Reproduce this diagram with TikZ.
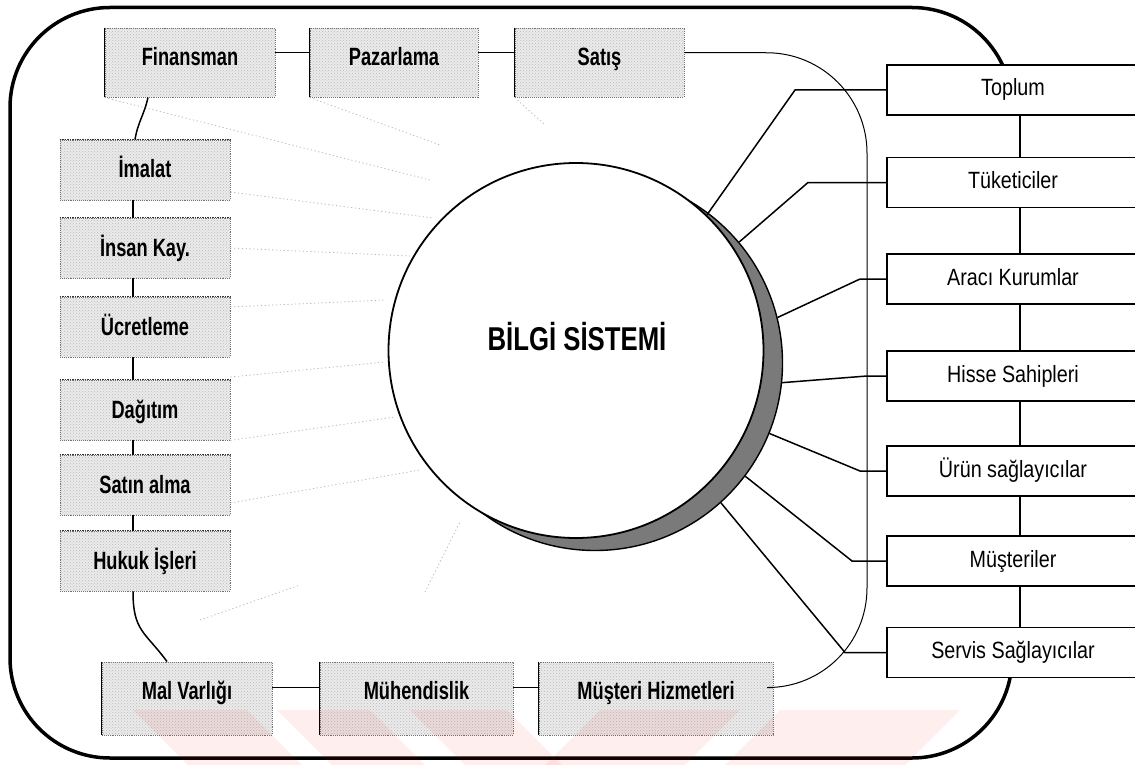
\documentclass[tikz,border=0pt]{standalone}
\usepackage{fontspec}
\usepackage{graphicx}
\setmainfont{Liberation Sans}
\usetikzlibrary{patterns,calc}
% condensed bold label text (boxes) and condensed regular text (right column)
\newcommand{\sqzb}[1]{\scalebox{0.73}[1]{#1}}
\newcommand{\sqzr}[1]{\scalebox{0.84}[1]{#1}}
\begin{document}
\begin{tikzpicture}[x=1pt,y=-1pt]
\tikzset{
  frameline/.style={line width=3.5pt, rounded corners=100pt},
  conn/.style={line width=1.5pt},
  thinline/.style={line width=1pt},
  ray/.style={draw=gray!55, line width=0.8pt, dash pattern=on 1.2pt off 2.6pt},
  gbox/.style={draw=black!55, densely dotted, line width=0.9pt,
    preaction={fill=gray!16}, pattern=crosshatch dots, pattern color=gray!55,
    inner xsep=0pt, inner ysep=0pt, font=\fontsize{25}{25}\selectfont\bfseries},
  toprow/.style={gbox, text height=38pt, text depth=31pt},
  botrow/.style={gbox, text height=37pt, text depth=36pt},
  leftcol/.style={gbox, minimum width=170pt, text height=38pt, text depth=22pt},
  darkside/.style={line width=1.6pt, black},
  darktop/.style={line width=1.5pt, black!80, densely dotted},
  rbox/.style={draw, line width=1.6pt, fill=white, minimum width=252pt,
    minimum height=50pt, inner sep=0pt, text height=17pt, text depth=5pt,
    font=\fontsize{23.5}{23.5}\selectfont},
  wmark/.style={fill=red, opacity=0.065},
}
\useasboundingbox (0,0) rectangle (1135,765);
\clip (0,0) rectangle (1135,765);

% faint dotted rays towards the central circle
\coordinate (r1) at (430,180);
\coordinate (r2) at (440,145);
\coordinate (r3) at (545,125);
\coordinate (r4) at (433,218);
\coordinate (r5) at (410,256);
\coordinate (r6) at (385,300);
\coordinate (r7) at (385,362);
\coordinate (r8) at (395,417);
\coordinate (r9) at (420,470);
\coordinate (r10a) at (200,620);
\coordinate (r10b) at (300,585);
\coordinate (r11a) at (425,592);
\coordinate (r11b) at (460,522);

% outer frame (its right side runs behind the right-hand boxes)
\draw[frameline] (1012,110) -- (1012,7.5) -- (10,7.5) -- (10,758) -- (1012,758) -- (1012,640);

% central circle with its shadow
\node[circle, minimum size=375pt, inner sep=0pt, fill=black!52, draw=black, line width=1.4pt] (sh) at (595,363) {};
\node[circle, minimum size=375pt, inner sep=0pt, fill=white, draw=black, line width=1.8pt] (bs) at (576,350.5) {};
\node[font=\fontsize{33}{33}\selectfont\bfseries, text height=24pt, text depth=0pt, inner sep=0pt] (bstext) at (577,338) {\scalebox{0.78}[1]{BİLGİ SİSTEMİ}};

% right-hand column
\node[rbox] (top) at (1013,90)    {\sqzr{Toplum}};
\node[rbox] (tuk) at (1013,182.5) {\sqzr{Tüketiciler}};
\node[rbox] (ara) at (1013,279)   {\sqzr{Aracı Kurumlar}};
\node[rbox] (his) at (1013,376)   {\sqzr{Hisse Sahipleri}};
\node[rbox] (uru) at (1013,471)   {\sqzr{Ürün sağlayıcılar}};
\node[rbox] (mus) at (1013,561)   {\sqzr{Müşteriler}};
\node[rbox] (ser) at (1013,652.5) {\sqzr{Servis Sağlayıcılar}};

\foreach \a/\b in {top/tuk, tuk/ara, ara/his, his/uru, uru/mus, mus/ser}
  \draw[line width=2pt] ([xshift=7pt]\a.south) -- ([xshift=7pt]\b.north);

% top row
\node[toprow, minimum width=170pt] (fin) at (190,62.5)   {\sqzb{Finansman}};
\node[toprow, minimum width=168pt] (paz) at (394,62.5)   {\sqzb{Pazarlama}};
\node[toprow, minimum width=169pt] (sat) at (599.5,62.5) {\sqzb{Satış}};

% left column
\node[leftcol] (ima) at (145,170) {\sqzb{İmalat}};
\node[leftcol] (ins) at (145,248) {\sqzb{İnsan Kay.}};
\node[leftcol] (ucr) at (145,327) {\sqzb{Ücretleme}};
\node[leftcol] (dag) at (145,410) {\sqzb{Dağıtım}};
\node[leftcol] (stn) at (145,485) {\sqzb{Satın alma}};
\node[leftcol] (huk) at (145,561) {\sqzb{Hukuk İşleri}};

% bottom row
\node[botrow, minimum width=170pt] (mal) at (187,698.5)   {\sqzb{Mal Varlığı}};
\node[botrow, minimum width=193pt] (muh) at (416.5,698.5) {\sqzb{Mühendislik}};
\node[botrow, minimum width=234pt] (msh) at (656,698.5)   {\sqzb{Müşteri Hizmetleri}};

% solid left edges of the top and bottom rows, darker top edges of the left column
\foreach \n in {fin, paz, sat, mal, muh, msh}
  \draw[darkside] (\n.north west) -- (\n.south west);
\foreach \n in {ima, ins, ucr, dag, stn, huk}
  \draw[darktop] (\n.north west) -- (\n.north east);

% rays
\draw[ray] (fin.south west) -- (r1);
\draw[ray] (paz.south west) -- (r2);
\draw[ray] (sat.south west) -- (r3);
\draw[ray] ([yshift=-22pt]ima.east) -- (r4);
\draw[ray] (ins.east) -- (r5);
\draw[ray] ([yshift=20pt]ucr.east) -- (r6);
\draw[ray] ([yshift=33pt]dag.east) -- (r7);
\draw[ray] (dag.south east) -- (r8);
\draw[ray] ([yshift=-18pt]stn.east) -- (r9);
\draw[ray] (r10a) -- (r10b);
\draw[ray] (r11a) -- (r11b);

% connectors between the grey boxes
\draw[conn] ([yshift=-25pt]fin.north east) -- ([yshift=-25pt]paz.north west);
\draw[conn] ([yshift=-25pt]paz.north east) -- ([yshift=-25pt]sat.north west);
\draw[conn] ([xshift=-42pt]fin.south) .. controls +(-4,18) and +(3,-18) .. ([xshift=-10pt]ima.north);
\foreach \a/\b in {ima/ins, ins/ucr, ucr/dag, dag/stn, stn/huk}
  \draw[conn] ([xshift=-12pt]\a.south) -- ([xshift=-12pt]\b.north);
\draw[conn] ([xshift=-12pt]huk.south) .. controls +(0,40) and +(-22,-30) .. ([xshift=-20pt]mal.north);
\draw[conn] ([yshift=-26pt]mal.north east) -- ([yshift=-26pt]muh.north west);
\draw[conn] ([yshift=-26pt]muh.north east) -- ([yshift=-26pt]msh.north west);

% thin bracket from Satış round to Müşteri Hizmetleri
\coordinate (bk1) at (867,53);
\coordinate (bk2) at (867,688);
\draw[thinline, rounded corners=100pt] ([yshift=-25pt]sat.north east) -- (bk1) -- (bk2) -- ([yshift=-26pt]msh.north east);

% connectors from the circle to the right-hand column
\draw[conn] (bs.46)  -- (795,0 |- top.west) -- (top.west);
\draw[conn] (sh.40)  -- (808,0 |- tuk.west) -- (tuk.west);
\draw[conn] (sh.14)  -- (860,0 |- ara.west) -- (ara.west);
\draw[conn] (sh.-6)  -- (867,0 |- his.west) -- (his.west);
\draw[conn] (sh.-22) -- (860,0 |- uru.west) -- (uru.west);
\draw[conn] (sh.-37) -- (852,0 |- mus.west) -- (mus.west);
\draw[conn] (sh.-48) -- (845,0 |- ser.west) -- (ser.west);

% pale chevron watermark along the bottom
\fill[wmark] (133,710) -- (247,710) -- (302,765) -- (188,765) -- cycle;
\fill[wmark] (277,710) -- (370,710) -- (425,765) -- (332,765) -- cycle;
\fill[wmark] (410,710) -- (507,710) -- (562,765) -- (465,765) -- cycle;
\fill[wmark] (600,710) -- (740,710) -- (685,765) -- (545,765) -- cycle;
\fill[wmark] (780,710) -- (960,710) -- (905,765) -- (725,765) -- cycle;
\end{tikzpicture}
\end{document}
